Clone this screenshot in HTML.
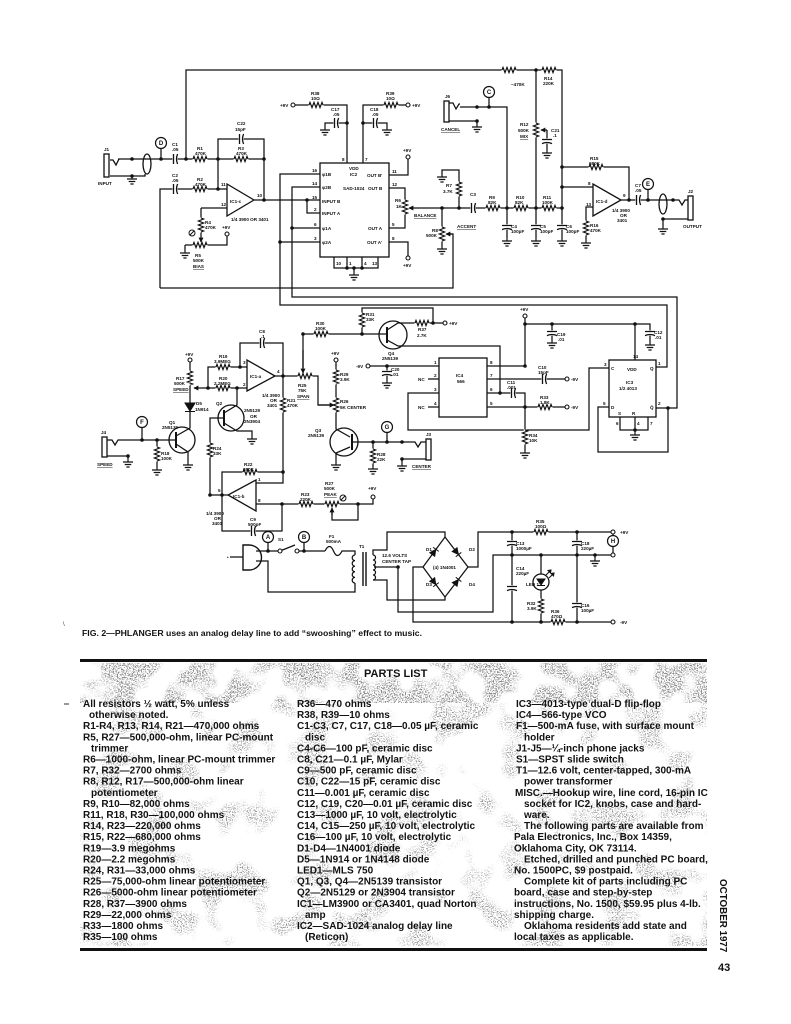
<!DOCTYPE html>
<html><head><meta charset="utf-8">
<style>
html,body{margin:0;padding:0;background:#fff;}
svg{display:block;}
</style></head><body>
<svg width="791" height="1024" viewBox="0 0 791 1024" xmlns="http://www.w3.org/2000/svg">
<defs>
<g id="rh"><rect x="-7.5" y="-1.3" width="15" height="2.6" fill="#fff"/><path fill="none" stroke="#111" stroke-width="1.2" d="M-7,0 L-6,-2.6 L-4,2.6 L-2,-2.6 L0,2.6 L2,-2.6 L4,2.6 L6,-2.6 L7,0"/></g>
<g id="rv"><use href="#rh" transform="rotate(90)"/></g>
<g id="ch"><rect x="-2.6" y="-1.3" width="5.2" height="2.6" fill="#fff"/><path fill="none" stroke="#111" stroke-width="1.3" d="M-1.5,-5 V5 M2.6,-5 Q0.4,0 2.6,5"/></g>
<g id="cv"><use href="#ch" transform="rotate(90)"/></g>
<path id="gnd" fill="none" stroke="#111" stroke-width="1.2" d="M0,0 V3 M-5,3 H5 M-3.3,5.5 H3.3 M-1.6,8 H1.6"/>
<circle id="tm" r="2" fill="#fff" stroke="#111" stroke-width="1.1"/>
<circle id="dt" r="1.8" fill="#111"/>
<marker id="ar" markerWidth="4" markerHeight="4" refX="3.5" refY="2" orient="auto"><path d="M0,0 L4,2 L0,4 z" fill="#111"/></marker>
<filter id="sp1" x="0" y="0" width="1" height="1">
<feTurbulence type="fractalNoise" baseFrequency="0.75" numOctaves="3" seed="5" result="f"/>
<feColorMatrix in="f" type="matrix" values="0 0 0 0 0.25  0 0 0 0 0.25  0 0 0 0 0.25  14 0 0 0 -7.2" result="fm"/>
<feTurbulence type="fractalNoise" baseFrequency="0.035" numOctaves="2" seed="8" result="c"/>
<feColorMatrix in="c" type="matrix" values="0 0 0 0 0  0 0 0 0 0  0 0 0 0 0  7 0 0 0 -3.1" result="cm"/>
<feComposite in="fm" in2="cm" operator="in"/>
</filter>
<filter id="sp2" x="0" y="0" width="1" height="1">
<feTurbulence type="fractalNoise" baseFrequency="0.8" numOctaves="3" seed="11" result="f"/>
<feColorMatrix in="f" type="matrix" values="0 0 0 0 0.3  0 0 0 0 0.3  0 0 0 0 0.3  14 0 0 0 -7.6" result="fm"/>
<feTurbulence type="fractalNoise" baseFrequency="0.03" numOctaves="2" seed="21" result="c"/>
<feColorMatrix in="c" type="matrix" values="0 0 0 0 0  0 0 0 0 0  0 0 0 0 0  7 0 0 0 -3.7" result="cm"/>
<feComposite in="fm" in2="cm" operator="in"/>
</filter>
</defs>
<rect width="791" height="1024" fill="#fff"/>

<!-- ================= WIRES ================= -->
<g fill="none" stroke="#111" stroke-width="1.25">
<path d="M186,159 V70 H562 V238"/>
<path d="M536,70 V238"/>
<path d="M547,130 V150"/>
<path d="M118,159 H264"/>
<path d="M110,176 H145 V174"/>
<path d="M161,159 V149"/>
<path d="M218,159 V139 H264 V200"/>
<path d="M218,159 V189"/>
<path d="M160,288 V189 H227"/>
<path d="M254,200 H320"/>
<path d="M307,200 V213 H320"/>
<path d="M227,208 H201"/>
<path d="M185,245 H227 V236"/>
<path d="M185,245 V250"/>
<path d="M320,174 H280 V305 H667 V367 H656"/>
<path d="M320,187 H292 V297 H677 V408 H656"/>
<path d="M320,228 H292"/>
<path d="M320,242 H280"/>
<path d="M347,163 V105 H295"/>
<path d="M347,123 H325 V127"/>
<path d="M363,163 V105 H406"/>
<path d="M363,123 H387 V127"/>
<path d="M389,175 H408 V159"/>
<path d="M389,188 H405 V228 H389"/>
<path d="M389,242 H408 V256"/>
<path d="M334,257 V268 H378 V257 M347,257 V268 M362,257 V268 M354,268 V272"/>
<path d="M442,208 V246"/>
<path d="M160,288 H453 V234 H447"/>
<path d="M459,208 V170 H442 V174"/>
<path d="M507,208 V238"/>
<path d="M507,208 V107 H460"/>
<path d="M489,107 V98"/>
<path d="M449,121 H477 V124"/>
<path d="M449,103 H453 L456,109 L459,104 H460"/>
<path d="M562,167 H629 V200"/>
<path d="M562,187 H593"/>
<path d="M593,207 H586 V240"/>
<path d="M621,200 H673 H679 L682,205 L685,200 H688"/>
<path d="M648,200 V190"/>
<path d="M688,219 H663 V226"/>
<path d="M240,367 V343 H283 V376"/>
<path d="M208,388 V367 H247"/>
<path d="M208,388 H247"/>
<path d="M190,362 V403"/>
<path d="M176,436 L190,428 V411"/>
<path d="M176,444 L188,452 V462"/>
<path d="M176,432 V448" stroke-width="2"/>
<path d="M107,440 H112 L115,445 L118,440 H176"/>
<path d="M142,440 V428"/>
<path d="M157,440 V467"/>
<path d="M107,456 H128 V459"/>
<path d="M275,376 H318 V405 H330"/>
<path d="M303,334 V368"/>
<path d="M303,334 H387"/>
<path d="M362,334 V308 H433 V323"/>
<path d="M387,327 V343" stroke-width="2"/>
<path d="M387,330 L398,323 H443"/>
<path d="M387,340 L398,346 H500 V393"/>
<path d="M487,393 H525 V450"/>
<path d="M487,407 H565"/>
<path d="M487,379 H565"/>
<path d="M487,366 H525 V318"/>
<path d="M525,324 H650 V342"/>
<path d="M552,324 V340"/>
<path d="M635,324 V360"/>
<path d="M370,366 H439 M387,366 V380"/>
<path d="M439,379 H428 M439,407 H428"/>
<path d="M439,393 H408 V430 H589 V368 H609"/>
<path d="M609,407 H598 V452 H668 V408"/>
<path d="M620,417 V430 H648 V417 M635,417 V432"/>
<path d="M336,362 V429 L350,437"/>
<path d="M352,434 V450" stroke-width="2"/>
<path d="M350,447 L336,453 V462"/>
<path d="M352,442 H415 L418,447 L421,442 H426"/>
<path d="M373,442 V466"/>
<path d="M387,442 V433"/>
<path d="M426,459 H402 V463"/>
<path d="M283,376 V483 H256"/>
<path d="M283,472 H222 V531 H282 V504"/>
<path d="M228,495 H210 V418 H224"/>
<path d="M224,410 V426" stroke-width="2"/>
<path d="M224,413 L237,405 V388"/>
<path d="M224,423 L237,431 H252 V436"/>
<path d="M256,504 H373 V499"/>
<path d="M358,504 V520 H332 V511"/>
<path d="M230,557 H243"/>
<path d="M243,545 H249 A12.5,12.5 0 0 1 249,570 H243 Z" stroke-width="1.4"/>
<path d="M256,551 H280 M280,551 L295,545 M297,551 H325"/>
<path d="M325,551 C328,545 331,545 333.5,551 C336,557 339,557 342,551 H355 V555"/>
<path d="M256,561 H268 V592 H355 V583"/>
<path d="M268,551 V543 M304,551 V543"/>
<path d="M355,555 a2.8,2.8 0 0 0 0,5.6 a2.8,2.8 0 0 0 0,5.6 a2.8,2.8 0 0 0 0,5.6 a2.8,2.8 0 0 0 0,5.6 a2.8,2.8 0 0 0 0,5.6"/>
<path d="M363,552 V586 M366,552 V586" stroke-width="1.4"/>
<path d="M373,555 a2.5,2.5 0 0 1 0,5 a2.5,2.5 0 0 1 0,5 a2.5,2.5 0 0 1 0,5 a2.5,2.5 0 0 1 0,5 a2.5,2.5 0 0 1 0,5"/>
<path d="M373,555 V550 H387 V532 H445 V537"/>
<path d="M373,580 H387 V600 H445 V597"/>
<path d="M374,567 H398 V612 H493 V555 H611"/>
<path d="M423,567 H413 V622 H611"/>
<path d="M468,567 H478 V532 H611"/>
<path d="M445,537 L468,567 L445,597 L423,567 Z"/>
<path d="M512,532 V622 M577,532 V622 M541,555 V574 M541,590 V622"/>
<path d="M595,555 V558"/>
<path d="M613,534 V535.5 M613,546.5 V553"/>
<path d="M547,130 H541" marker-end="url(#ar)"/>
<path d="M201,208 V242" marker-end="url(#ar)"/>
<path d="M562,208 H409" marker-end="url(#ar)"/>
<path d="M453,234 H446" marker-end="url(#ar)"/>
<path d="M208,388 H194" marker-end="url(#ar)"/>
<path d="M303,350 V373" marker-end="url(#ar)"/>
<path d="M318,405 H334" marker-end="url(#ar)"/>
<path d="M332,515 V508" marker-end="url(#ar)"/>
</g>

<!-- ================= COMPONENTS ================= -->
<g fill="#fff" stroke="#111" stroke-width="1.3">
<rect x="104" y="154" width="5" height="23"/>
<rect x="444" y="101" width="5" height="21"/>
<rect x="688" y="196" width="5" height="24"/>
<rect x="102" y="437" width="5" height="20"/>
<rect x="426" y="439" width="5" height="21"/>
<ellipse cx="147" cy="164" rx="4" ry="10" fill="none"/>
<ellipse cx="663" cy="204" rx="4" ry="10" fill="none"/>
<path d="M110,160 H113 L116,165 L119,159" fill="none"/>
<polygon points="227,184 227,216 254,200"/>
<polygon points="593,184 593,216 621,200"/>
<polygon points="247,360 247,391 275,376"/>
<polygon points="256,480 256,511 228,495"/>
<rect x="320" y="163" width="69" height="94"/>
<rect x="439" y="358" width="48" height="59"/>
<rect x="609" y="360" width="47" height="57"/>
<circle cx="182" cy="440" r="13" fill="none"/>
<circle cx="231" cy="418" r="13" fill="none"/>
<circle cx="344" cy="442" r="14" fill="none"/>
<circle cx="393" cy="335" r="14" fill="none"/>
<circle cx="541" cy="582" r="8"/>
</g>
<g fill="#111" stroke="#111" stroke-width="1">
<path d="M537,579 H545 L541,585 Z"/><path d="M537,585.5 H545" fill="none"/>
<path d="M546,575 L551,570 M549,578 L554,573" fill="none"/>
<path d="M551,570 l-3,0.5 l2.5,2.5 z M554,573 l-3,0.5 l2.5,2.5 z"/>
<path d="M185,403 H195 L190,411 Z"/><path d="M185,411.5 H195" fill="none"/>
<g transform="translate(434,552) rotate(-54)"><path d="M-3,-3 L3,0 L-3,3 Z"/><path d="M3.3,-3.5 V3.5" fill="none"/></g>
<g transform="translate(456.5,552) rotate(52)"><path d="M-3,-3 L3,0 L-3,3 Z"/><path d="M3.3,-3.5 V3.5" fill="none"/></g>
<g transform="translate(434,582) rotate(54)"><path d="M-3,-3 L3,0 L-3,3 Z"/><path d="M3.3,-3.5 V3.5" fill="none"/></g>
<g transform="translate(456.5,582) rotate(-52)"><path d="M-3,-3 L3,0 L-3,3 Z"/><path d="M3.3,-3.5 V3.5" fill="none"/></g>
</g>

<use href="#rh" x="509" y="70"/>
<use href="#rh" x="549" y="70"/>
<use href="#rv" x="536" y="130"/>
<use href="#rh" x="200" y="159"/>
<use href="#rh" x="241" y="159"/>
<use href="#rh" x="200" y="189"/>
<use href="#rv" x="201" y="225"/>
<use href="#rh" x="200" y="245"/>
<use href="#rh" x="316" y="105"/>
<use href="#rh" x="391" y="105"/>
<use href="#rv" x="405" y="207"/>
<use href="#rv" x="442" y="234"/>
<use href="#rv" x="459" y="189"/>
<use href="#rh" x="493" y="208"/>
<use href="#rh" x="521" y="208"/>
<use href="#rh" x="549" y="208"/>
<use href="#rh" x="596" y="167"/>
<use href="#rv" x="586" y="228"/>
<use href="#rh" x="223" y="367"/>
<use href="#rh" x="223" y="388"/>
<use href="#rv" x="190" y="378"/>
<use href="#rv" x="157" y="454"/>
<use href="#rh" x="305" y="376"/>
<use href="#rh" x="321" y="334"/>
<use href="#rv" x="362" y="320"/>
<use href="#rh" x="422" y="323"/>
<use href="#rv" x="336" y="377"/>
<use href="#rv" x="336" y="405"/>
<use href="#rv" x="373" y="456"/>
<use href="#rv" x="525" y="437"/>
<use href="#rh" x="545" y="407"/>
<use href="#rv" x="283" y="405"/>
<use href="#rh" x="250" y="472"/>
<use href="#rv" x="210" y="450"/>
<use href="#rh" x="306" y="504"/>
<use href="#rh" x="332" y="504"/>
<use href="#rh" x="541" y="532"/>
<use href="#rh" x="558" y="622"/>
<use href="#rv" x="541" y="606"/>
<use href="#ch" x="175" y="159"/>
<use href="#ch" x="175" y="189"/>
<use href="#ch" x="241" y="139"/>
<use href="#ch" x="336" y="123"/>
<use href="#ch" x="375" y="123"/>
<use href="#cv" x="547" y="141"/>
<use href="#ch" x="473" y="208"/>
<use href="#cv" x="507" y="227"/>
<use href="#cv" x="536" y="227"/>
<use href="#cv" x="562" y="227"/>
<use href="#ch" x="638" y="200"/>
<use href="#ch" x="262" y="343"/>
<use href="#cv" x="387" y="373"/>
<use href="#cv" x="552" y="333"/>
<use href="#cv" x="650" y="333"/>
<use href="#ch" x="544" y="379"/>
<use href="#ch" x="513" y="393"/>
<use href="#ch" x="253" y="531"/>
<use href="#cv" x="512" y="543"/>
<use href="#cv" x="577" y="543"/>
<use href="#cv" x="512" y="588"/>
<use href="#cv" x="577" y="605"/>
<use href="#gnd" x="132" y="176"/>
<use href="#gnd" x="185" y="250"/>
<use href="#gnd" x="325" y="127"/>
<use href="#gnd" x="387" y="127"/>
<use href="#gnd" x="354" y="272"/>
<use href="#gnd" x="442" y="246"/>
<use href="#gnd" x="442" y="174"/>
<use href="#gnd" x="507" y="238"/>
<use href="#gnd" x="536" y="238"/>
<use href="#gnd" x="562" y="238"/>
<use href="#gnd" x="547" y="150"/>
<use href="#gnd" x="477" y="124"/>
<use href="#gnd" x="586" y="240"/>
<use href="#gnd" x="663" y="226"/>
<use href="#gnd" x="188" y="462"/>
<use href="#gnd" x="157" y="467"/>
<use href="#gnd" x="128" y="459"/>
<use href="#gnd" x="252" y="436"/>
<use href="#gnd" x="336" y="462"/>
<use href="#gnd" x="373" y="466"/>
<use href="#gnd" x="402" y="463"/>
<use href="#gnd" x="387" y="380"/>
<use href="#gnd" x="552" y="340"/>
<use href="#gnd" x="650" y="342"/>
<use href="#gnd" x="525" y="450"/>
<use href="#gnd" x="635" y="432"/>
<use href="#gnd" x="595" y="558"/>
<use href="#tm" x="227" y="234"/>
<use href="#tm" x="293" y="105"/>
<use href="#tm" x="408" y="105"/>
<use href="#tm" x="408" y="157"/>
<use href="#tm" x="408" y="258"/>
<use href="#tm" x="190" y="360"/>
<use href="#tm" x="336" y="360"/>
<use href="#tm" x="445" y="323"/>
<use href="#tm" x="525" y="316"/>
<use href="#tm" x="368" y="366"/>
<use href="#tm" x="567" y="379"/>
<use href="#tm" x="567" y="407"/>
<use href="#tm" x="373" y="497"/>
<use href="#tm" x="613" y="532"/>
<use href="#tm" x="613" y="555"/>
<use href="#tm" x="613" y="622"/>
<use href="#tm" x="280" y="551"/>
<use href="#tm" x="297" y="551"/>
<use href="#dt" x="132" y="159"/><use href="#dt" x="161" y="159"/><use href="#dt" x="186" y="159"/>
<use href="#dt" x="218" y="159"/><use href="#dt" x="264" y="159"/><use href="#dt" x="218" y="189"/>
<use href="#dt" x="264" y="200"/><use href="#dt" x="307" y="200"/><use href="#dt" x="132" y="176"/>
<use href="#dt" x="292" y="228"/><use href="#dt" x="280" y="242"/>
<use href="#dt" x="347" y="123"/><use href="#dt" x="363" y="123"/>
<use href="#dt" x="347" y="268"/><use href="#dt" x="354" y="268"/><use href="#dt" x="362" y="268"/>
<use href="#dt" x="442" y="208"/><use href="#dt" x="459" y="208"/><use href="#dt" x="507" y="208"/>
<use href="#dt" x="536" y="208"/><use href="#dt" x="562" y="208"/><use href="#dt" x="536" y="70"/>
<use href="#dt" x="562" y="167"/><use href="#dt" x="562" y="187"/><use href="#dt" x="629" y="200"/>
<use href="#dt" x="648" y="200"/><use href="#dt" x="673" y="200"/><use href="#dt" x="663" y="219"/>
<use href="#dt" x="477" y="107"/><use href="#dt" x="489" y="107"/><use href="#dt" x="477" y="121"/>
<use href="#dt" x="208" y="388"/><use href="#dt" x="240" y="367"/><use href="#dt" x="283" y="376"/>
<use href="#dt" x="142" y="440"/><use href="#dt" x="157" y="440"/><use href="#dt" x="128" y="456"/>
<use href="#dt" x="237" y="388"/><use href="#dt" x="303" y="334"/><use href="#dt" x="362" y="334"/>
<use href="#dt" x="433" y="323"/><use href="#dt" x="500" y="393"/><use href="#dt" x="525" y="407"/>
<use href="#dt" x="525" y="366"/><use href="#dt" x="525" y="324"/><use href="#dt" x="552" y="324"/>
<use href="#dt" x="635" y="324"/><use href="#dt" x="387" y="366"/><use href="#dt" x="668" y="408"/>
<use href="#dt" x="635" y="430"/><use href="#dt" x="373" y="442"/><use href="#dt" x="387" y="442"/>
<use href="#dt" x="402" y="442"/><use href="#dt" x="402" y="459"/>
<use href="#dt" x="283" y="472"/><use href="#dt" x="210" y="495"/><use href="#dt" x="222" y="495"/>
<use href="#dt" x="282" y="504"/><use href="#dt" x="358" y="504"/>
<use href="#dt" x="268" y="551"/><use href="#dt" x="304" y="551"/>
<use href="#dt" x="512" y="532"/><use href="#dt" x="577" y="532"/><use href="#dt" x="512" y="555"/>
<use href="#dt" x="541" y="555"/><use href="#dt" x="577" y="555"/><use href="#dt" x="595" y="555"/>
<use href="#dt" x="512" y="622"/><use href="#dt" x="541" y="622"/><use href="#dt" x="577" y="622"/>
<use href="#dt" x="398" y="567"/>

<g fill="#fff" stroke="#111" stroke-width="1">
<circle cx="192" cy="233" r="3"/><circle cx="343" cy="498" r="3"/>
</g>
<path d="M190,235 L194,231 M341,500 L345,496" stroke="#111" stroke-width="1"/>

<g fill="#fff" stroke="#111" stroke-width="1.2">
<circle cx="161" cy="143" r="5.5"/>
<circle cx="489" cy="92" r="5.5"/>
<circle cx="648" cy="184" r="5.5"/>
<circle cx="142" cy="422" r="5.5"/>
<circle cx="387" cy="427" r="5.5"/>
<circle cx="268" cy="537" r="5.5"/>
<circle cx="304" cy="537" r="5.5"/>
<circle cx="613" cy="541" r="5.5"/>
</g>
<g font-family="Liberation Sans, sans-serif" font-weight="bold" font-size="6" fill="#111" text-anchor="middle">
<text x="161" y="145.2">D</text><text x="489" y="94.2">C</text><text x="648" y="186.2">E</text>
<text x="142" y="424.2">F</text><text x="387" y="429.2">G</text><text x="268" y="539.2">A</text>
<text x="304" y="539.2">B</text><text x="613" y="543.2">H</text>
</g>

<!-- ================= SMALL LABELS ================= -->
<g font-family="Liberation Sans, sans-serif" font-weight="bold" font-size="4.6" fill="#111">
<text x="104" y="151">J1</text><text x="98" y="185">INPUT</text>
<text x="172" y="146">C1</text><text x="172" y="151">.05</text>
<text x="197" y="150">R1</text><text x="195" y="155">470K</text>
<text x="237" y="125">C22</text><text x="235" y="131">15pF</text>
<text x="238" y="150">R3</text><text x="236" y="155">470K</text>
<text x="172" y="177">C2</text><text x="172" y="182">.05</text>
<text x="197" y="181">R2</text><text x="195" y="186">470K</text>
<text x="221" y="186">11</text><text x="221" y="206">12</text><text x="257" y="197">10</text>
<text x="230" y="203">IC1-c</text>
<text x="231" y="221">1/4 3900 OR 3401</text>
<text x="205" y="224">R4</text><text x="205" y="229">470K</text>
<text x="195" y="257">R5</text><text x="193" y="262">500K</text><text x="193" y="268" style="text-decoration:underline">BIAS</text>
<text x="222" y="229">+9V</text>
<text x="349" y="170">VDD</text><text x="350" y="176">IC2</text><text x="343" y="190">SAD-1024</text>
<text x="322" y="176">φ1B</text><text x="322" y="189">φ2B</text><text x="322" y="203">INPUT B</text>
<text x="322" y="215">INPUT A</text><text x="322" y="230">φ1A</text><text x="322" y="244">φ2A</text>
<text x="312" y="172">16</text><text x="312" y="185">14</text><text x="312" y="199">15</text>
<text x="314" y="211">2</text><text x="314" y="226">6</text><text x="314" y="240">3</text>
<text x="342" y="161">8</text><text x="365" y="161">7</text>
<text x="392" y="173">11</text><text x="392" y="186">12</text><text x="392" y="226">5</text><text x="392" y="240">8</text>
<text x="367" y="177">OUT B'</text><text x="368" y="190">OUT B</text><text x="368" y="230">OUT A</text><text x="367" y="244">OUT A'</text>
<text x="336" y="265">10</text><text x="349" y="265">1</text><text x="364" y="265">4</text><text x="372" y="265">13</text>
<text x="311" y="95">R38</text><text x="311" y="100">10Ω</text>
<text x="331" y="111">C17</text><text x="333" y="116">.05</text>
<text x="370" y="111">C18</text><text x="372" y="116">.05</text>
<text x="386" y="95">R39</text><text x="386" y="100">10Ω</text>
<text x="280" y="107">+9V</text><text x="412" y="107">+9V</text>
<text x="403" y="152">+9V</text><text x="403" y="267">+9V</text>
<text x="395" y="202">R6</text><text x="396" y="208">1K</text>
<text x="414" y="217" style="text-decoration:underline">BALANCE</text>
<text x="432" y="232">R8</text><text x="426" y="237">500K</text>
<text x="457" y="228" style="text-decoration:underline">ACCENT</text>
<text x="446" y="187">R7</text><text x="443" y="193">3.7K</text>
<text x="470" y="196">C3</text>
<text x="489" y="199">R9</text><text x="488" y="204">82K</text>
<text x="516" y="199">R10</text><text x="515" y="204">82K</text>
<text x="543" y="199">R11</text><text x="542" y="204">100K</text>
<text x="511" y="228">C4</text><text x="511" y="233">100pF</text>
<text x="540" y="228">C5</text><text x="540" y="233">100pF</text>
<text x="566" y="228">C6</text><text x="566" y="233">100pF</text>
<text x="520" y="126">R12</text><text x="518" y="132">500K</text><text x="520" y="138" style="text-decoration:underline">MIX</text>
<text x="551" y="132">C21</text><text x="553" y="137">.1</text>
<text x="544" y="80">R14</text><text x="543" y="85">220K</text>
<text x="511" y="86">~470K</text>
<text x="445" y="98">J6</text>
<text x="441" y="131" style="text-decoration:underline">CANCEL</text>
<text x="590" y="160">R15</text><text x="589" y="165">680K</text>
<text x="588" y="185">8</text><text x="586" y="206">13</text><text x="623" y="197">9</text>
<text x="596" y="203">IC1-d</text>
<text x="612" y="212">1/4 3900</text><text x="620" y="217">OR</text><text x="617" y="222">3401</text>
<text x="635" y="187">C7</text><text x="635" y="192">.05</text>
<text x="688" y="193">J2</text><text x="683" y="228">OUTPUT</text>
<text x="590" y="227">R16</text><text x="590" y="232">470K</text>
<text x="259" y="333">C8</text><text x="261" y="338">.1</text>
<text x="219" y="358">R19</text><text x="214" y="363">3.9MEG</text>
<text x="219" y="380">R20</text><text x="214" y="385">2.2MEG</text>
<text x="243" y="364">3</text><text x="243" y="386">2</text><text x="277" y="373">4</text>
<text x="250" y="378">IC1-a</text>
<text x="262" y="397">1/4 3900</text><text x="270" y="402">OR</text><text x="267" y="407">3401</text>
<text x="185" y="356">+9V</text>
<text x="176" y="380">R17</text><text x="174" y="385">500K</text><text x="173" y="391" style="text-decoration:underline">SPEED</text>
<text x="196" y="405">D5</text><text x="195" y="411">1N914</text>
<text x="169" y="424">Q1</text><text x="162" y="429">2N5139</text>
<text x="101" y="434">J4</text><text x="97" y="466" style="text-decoration:underline">SPEED</text>
<text x="161" y="455">R18</text><text x="161" y="460">100K</text>
<text x="244" y="412">2N5129</text><text x="250" y="418">OR</text><text x="244" y="423">2N3904</text>
<text x="216" y="405">Q2</text>
<text x="287" y="402">R21</text><text x="287" y="407">470K</text>
<text x="213" y="450">R24</text><text x="213" y="455">33K</text>
<text x="244" y="466">R22</text><text x="243" y="471">680K</text>
<text x="258" y="481">1</text><text x="218" y="492">5</text><text x="258" y="502">8</text>
<text x="233" y="498">IC1-b</text>
<text x="206" y="515">1/4 3900</text><text x="214" y="520">OR</text><text x="212" y="525">3401</text>
<text x="250" y="521">C9</text><text x="248" y="526">500pF</text>
<text x="301" y="496">R23</text><text x="300" y="501">220K</text>
<text x="325" y="485">R27</text><text x="324" y="490">500K</text><text x="324" y="496" style="text-decoration:underline">PEAK</text>
<text x="368" y="490">+9V</text>
<text x="316" y="325">R30</text><text x="315" y="330">100K</text>
<text x="366" y="316">R31</text><text x="366" y="321">33K</text>
<text x="388" y="355">Q4</text><text x="382" y="360">2N5139</text>
<text x="418" y="331">R37</text><text x="417" y="337">2.7K</text><text x="449" y="325">+9V</text>
<text x="298" y="387">R25</text><text x="298" y="392">75K</text><text x="297" y="398" style="text-decoration:underline">SPAN</text>
<text x="331" y="355">+9V</text>
<text x="340" y="376">R29</text><text x="340" y="381">3.9K</text>
<text x="340" y="403">R26</text><text x="340" y="409">5K CENTER</text>
<text x="315" y="432">Q3</text><text x="308" y="437">2N5139</text>
<text x="377" y="456">R28</text><text x="377" y="461">22K</text>
<text x="426" y="436">J3</text><text x="412" y="468" style="text-decoration:underline">CENTER</text>
<text x="356" y="368">-9V</text><text x="391" y="371">C20</text><text x="392" y="376">.01</text>
<text x="456" y="377">IC4</text><text x="457" y="383">566</text>
<text x="434" y="364">1</text><text x="434" y="377">2</text><text x="434" y="391">3</text><text x="434" y="405">4</text>
<text x="490" y="364">8</text><text x="490" y="377">7</text><text x="490" y="391">6</text><text x="490" y="405">5</text>
<text x="418" y="381">NC</text><text x="418" y="409">NC</text>
<text x="520" y="311">+9V</text>
<text x="557" y="336">C19</text><text x="558" y="341">.01</text>
<text x="654" y="334">C12</text><text x="655" y="339">.01</text>
<text x="538" y="369">C10</text><text x="538" y="374">15pF</text>
<text x="507" y="384">C11</text><text x="507" y="389">.001</text>
<text x="540" y="399">R33</text><text x="540" y="404">1.8K</text>
<text x="529" y="437">R34</text><text x="529" y="442">10K</text>
<text x="571" y="381">-9V</text><text x="571" y="409">-9V</text>
<text x="633" y="358">14</text><text x="627" y="371">VDD</text>
<text x="626" y="384">IC3</text><text x="619" y="390">1/2 4013</text>
<text x="604" y="366">3</text><text x="611" y="370">C</text><text x="603" y="405">5</text><text x="611" y="409">D</text>
<text x="658" y="365">1</text><text x="650" y="370">Q</text><text x="658" y="405">2</text><text x="650" y="409">Q̄</text>
<text x="618" y="415">S</text><text x="632" y="415">R</text>
<text x="616" y="425">6</text><text x="637" y="425">4</text><text x="650" y="425">7</text>
<text x="278" y="541">S1</text>
<text x="329" y="538">F1</text><text x="326" y="543">500mA</text>
<text x="359" y="548">T1</text>
<text x="382" y="557">12.6 VOLTS</text><text x="382" y="563">CENTER TAP</text>
<text x="426" y="551">D1</text><text x="469" y="551">D2</text>
<text x="426" y="586">D3</text><text x="469" y="586">D4</text>
<text x="433" y="569">(4) 1N4001</text>
<text x="536" y="523">R35</text><text x="535" y="528">100Ω</text>
<text x="516" y="545">C13</text><text x="516" y="550">1000µF</text>
<text x="581" y="545">C18</text><text x="581" y="550">220µF</text>
<text x="516" y="570">C14</text><text x="516" y="575">220µF</text>
<text x="526" y="586">LED 1</text>
<text x="527" y="605">R32</text><text x="527" y="610">3.9K</text>
<text x="551" y="613">R36</text><text x="551" y="618">470Ω</text>
<text x="581" y="607">C16</text><text x="581" y="612">100µF</text>
<text x="620" y="534">+9V</text><text x="620" y="624">-9V</text>
<text x="227" y="559">•</text>
</g>

<text x="82" y="636" font-family="Liberation Sans, sans-serif" font-weight="bold" font-size="8" fill="#111" textLength="340" lengthAdjust="spacingAndGlyphs">FIG. 2—PHLANGER uses an analog delay line to add “swooshing” effect to music.</text>
<text x="63" y="626" font-family="Liberation Sans, sans-serif" font-size="6" fill="#333">\</text>

<!-- ================= PARTS LIST ================= -->
<rect x="80" y="663" width="627" height="40" fill="#000" filter="url(#sp1)"/>
<rect x="80" y="703" width="627" height="243" fill="#000" filter="url(#sp2)"/>
<rect x="80" y="659" width="627" height="3" fill="#111"/>
<rect x="80" y="948" width="627" height="3" fill="#111"/>
<text x="364" y="677" font-family="Liberation Sans, sans-serif" font-weight="bold" font-size="11" fill="#111">PARTS LIST</text>
<path d="M64,704 H69" stroke="#333" stroke-width="1"/>

<g font-family="Liberation Sans, sans-serif" font-weight="bold" font-size="10" fill="#111">
<text x="83" y="707">All resistors ½ watt, 5% unless</text>
<text x="89" y="718.1">otherwise noted.</text>
<text x="83" y="729.2">R1-R4, R13, R14, R21—470,000 ohms</text>
<text x="83" y="740.3">R5, R27—500,000-ohm, linear PC-mount</text>
<text x="91" y="751.4">trimmer</text>
<text x="83" y="762.5">R6—1000-ohm, linear PC-mount trimmer</text>
<text x="83" y="773.6">R7, R32—2700 ohms</text>
<text x="83" y="784.7">R8, R12, R17—500,000-ohm linear</text>
<text x="91" y="795.8">potentiometer</text>
<text x="83" y="806.9">R9, R10—82,000 ohms</text>
<text x="83" y="818">R11, R18, R30—100,000 ohms</text>
<text x="83" y="829.1">R14, R23—220,000 ohms</text>
<text x="83" y="840.2">R15, R22—680,000 ohms</text>
<text x="83" y="851.3">R19—3.9 megohms</text>
<text x="83" y="862.4">R20—2.2 megohms</text>
<text x="83" y="873.5">R24, R31—33,000 ohms</text>
<text x="83" y="884.6">R25—75,000-ohm linear potentiometer</text>
<text x="83" y="895.7">R26—5000-ohm linear potentiometer</text>
<text x="83" y="906.8">R28, R37—3900 ohms</text>
<text x="83" y="917.9">R29—22,000 ohms</text>
<text x="83" y="929">R33—1800 ohms</text>
<text x="83" y="940.1">R35—100 ohms</text>

<text x="297" y="707">R36—470 ohms</text>
<text x="297" y="718.1">R38, R39—10 ohms</text>
<text x="297" y="729.2">C1-C3, C7, C17, C18—0.05 µF, ceramic</text>
<text x="305" y="740.3">disc</text>
<text x="297" y="751.4">C4-C6—100 pF, ceramic disc</text>
<text x="297" y="762.5">C8, C21—0.1 µF, Mylar</text>
<text x="297" y="773.6">C9—500 pF, ceramic disc</text>
<text x="297" y="784.7">C10, C22—15 pF, ceramic disc</text>
<text x="297" y="795.8">C11—0.001 µF, ceramic disc</text>
<text x="297" y="806.9">C12, C19, C20—0.01 µF, ceramic disc</text>
<text x="297" y="818">C13—1000 µF, 10 volt, electrolytic</text>
<text x="297" y="829.1">C14, C15—250 µF, 10 volt, electrolytic</text>
<text x="297" y="840.2">C16—100 µF, 10 volt, electrolytic</text>
<text x="297" y="851.3">D1-D4—1N4001 diode</text>
<text x="297" y="862.4">D5—1N914 or 1N4148 diode</text>
<text x="297" y="873.5">LED1—MLS 750</text>
<text x="297" y="884.6">Q1, Q3, Q4—2N5139 transistor</text>
<text x="297" y="895.7">Q2—2N5129 or 2N3904 transistor</text>
<text x="297" y="906.8">IC1—LM3900 or CA3401, quad Norton</text>
<text x="305" y="917.9">amp</text>
<text x="297" y="929">IC2—SAD-1024 analog delay line</text>
<text x="305" y="940.1">(Reticon)</text>

<text x="516" y="707">IC3—4013-type dual-D flip-flop</text>
<text x="516" y="718.1">IC4—566-type VCO</text>
<text x="516" y="729.2">F1—500-mA fuse, with surface mount</text>
<text x="524" y="740.3">holder</text>
<text x="516" y="751.4">J1-J5—¼-inch phone jacks</text>
<text x="516" y="762.5">S1—SPST slide switch</text>
<text x="516" y="773.6">T1—12.6 volt, center-tapped, 300-mA</text>
<text x="524" y="784.7">power transformer</text>
<text x="515" y="795.8">MISC.—Hookup wire, line cord, 16-pin IC</text>
<text x="524" y="806.9">socket for IC2, knobs, case and hard-</text>
<text x="524" y="818">ware.</text>
<text x="524" y="829.1">The following parts are available from</text>
<text x="514" y="840.2">Pala Electronics, Inc., Box 14359,</text>
<text x="514" y="851.3">Oklahoma City, OK 73114.</text>
<text x="524" y="862.4">Etched, drilled and punched PC board,</text>
<text x="514" y="873.5">No. 1500PC, $9 postpaid.</text>
<text x="524" y="884.6">Complete kit of parts including PC</text>
<text x="514" y="895.7">board, case and step-by-step</text>
<text x="514" y="906.8">instructions, No. 1500, $59.95 plus 4-lb.</text>
<text x="514" y="917.9">shipping charge.</text>
<text x="524" y="929">Oklahoma residents add state and</text>
<text x="514" y="940.1">local taxes as applicable.</text>
</g>

<text transform="translate(720,879) rotate(90)" font-family="Liberation Sans, sans-serif" font-weight="bold" font-size="9.8" fill="#111">OCTOBER 1977</text>
<text x="718" y="971" font-family="Liberation Sans, sans-serif" font-weight="bold" font-size="11" fill="#111">43</text>
</svg>
</body></html>
